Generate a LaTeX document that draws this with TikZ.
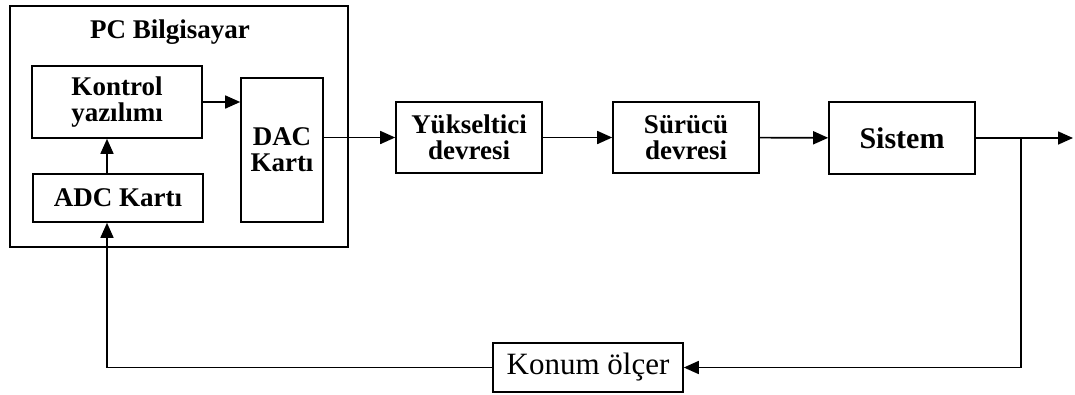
\documentclass[tikz,border=0pt]{standalone}
\usepackage{fontspec}
\setmainfont{Liberation Serif}
\usetikzlibrary{arrows.meta}

\begin{document}
\begin{tikzpicture}[x=1pt, y=-1pt, line width=1.6pt,
    blok/.style={draw, fill=white, align=center, inner sep=0pt, font=\fontsize{27}{26}\selectfont\bfseries},
    ok/.style={-{Triangle[length=15pt, width=13pt]}}]
      \useasboundingbox (0,0) rectangle (1075,394);
      %%%%%%%%%%%%%%%%%%%%%%%%%%%%%%%%%%%%%%%%%%%%%%%
      \node[draw, minimum width=338pt, minimum height=241pt] at (179,126.5) (pc) {};
      \node[font=\fontsize{27}{26}\selectfont\bfseries] at (170,32) (pcyazi) {PC Bilgisayar};
      \node[blok, minimum width=170pt, minimum height=72pt] at (117,102) (kontrol) {Kontrol\\yazılımı};
      \node[blok, minimum width=170pt, minimum height=48pt] at (118,198) (adc) {ADC Kartı};
      \node[blok, minimum width=82pt, minimum height=144pt] at (282,150) (dac) {DAC\\Kartı};
      %%%%%%%%%%%%%%%%%%%%%%%%%%%%%%%%%%%%%%%%%%%%%%%
      \node[blok, minimum width=146pt, minimum height=71pt] at (469,137.5) (yuk) {Yükseltici\\devresi};
      \node[blok, minimum width=146pt, minimum height=71pt] at (686,137.5) (sur) {Sürücü\\devresi};
      \node[blok, minimum width=146pt, minimum height=72pt, font=\fontsize{30}{30}\selectfont\bfseries] at (902,138) (sis) {Sistem};
      \node[blok, minimum width=190pt, minimum height=49pt, font=\fontsize{31}{30}\selectfont] at (588,367.5) (konum) {Konum ölçer};
      %%%%%%%%%%%%%%%%%%%%%%%%%%%%%%%%%%%%%%%%%%%%%%%
      \coordinate (cikis) at (1073,138);
      \coordinate (dal) at (1021,138);
      \coordinate (sol) at (107,367.5);
      \draw[ok] (kontrol.east) -- (kontrol.east -| dac.west);
      \draw[ok] (adc.north -| sol) -- (kontrol.south -| sol);
      \draw[ok] (dac.east |- yuk.west) -- (yuk.west);
      \draw[ok] (yuk) -- (sur);
      \draw[ok] (sur) -- (sis);
      \draw[ok] (sis) -- (cikis);
      \draw[ok] (dal) -- (dal |- konum.east) -- (konum.east);
      \draw[ok] (konum.west) -- (sol) -- (adc.south -| sol);
      %%%%%%%%%%%%%%%%%%%%%%%%%%%%%%%%%%%%%%%%%%%%%%%
\end{tikzpicture}
\end{document}
